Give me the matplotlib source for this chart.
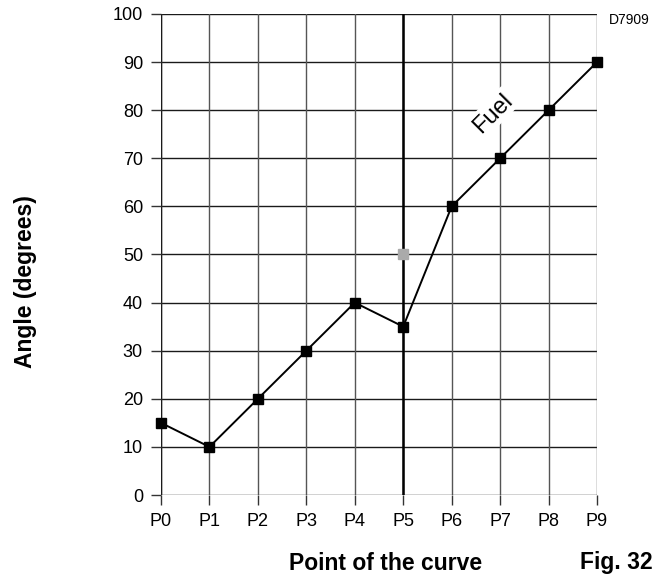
import matplotlib
matplotlib.use("Agg")
import matplotlib.pyplot as plt

plt.rcParams['font.family'] = ['Liberation Sans', 'DejaVu Sans']

points = ["P0", "P1", "P2", "P3", "P4", "P5", "P6", "P7", "P8", "P9"]
angles = [15, 10, 20, 30, 40, 35, 60, 70, 80, 90]
gray_point_x = 5
gray_point_y = 50
y_ticks = [0, 10, 20, 30, 40, 50, 60, 70, 80, 90, 100]

fig = plt.figure(figsize=(6.66, 5.79), dpi=100)
ax = fig.add_axes([161/666, 1-495/579, (597-161)/666, (495-14)/579])

x = list(range(len(points)))
ax.set_xlim(0, 9)
ax.set_ylim(0, 100)
for yv in y_ticks:
    ax.axhline(yv, color='#1a1a1a', lw=1.0, zorder=1)
for xv in x:
    ax.axvline(xv, color='#555555', lw=1.0, zorder=1)
ax.axvline(0, color='#1a1a1a', lw=1.0, zorder=1)
ax.axvline(5, color='black', lw=1.8, zorder=2)

ax.plot(x, angles, color='black', lw=1.4, marker='s', markersize=6.5, zorder=4, clip_on=False)
ax.plot([gray_point_x], [gray_point_y], marker='s', color='#aaaaaa', markersize=6.5, zorder=3, clip_on=False)

for s in ax.spines.values():
    s.set_visible(False)
ax.set_xticks(x)
ax.set_xticklabels(points)
ax.set_yticks(y_ticks)
ax.tick_params(axis='both', length=7, width=1, color='#333333', labelsize=13, pad=6)

ax.text(6.85, 79.4, "Fuel", rotation=45, fontsize=17, ha='center', va='center',
        rotation_mode='anchor',
        bbox=dict(facecolor='white', edgecolor='none', pad=1.5), zorder=3)

fig.text(26/666, 1-282/579, "Angle (degrees)", rotation=90, fontsize=16.5, fontweight='bold', ha='center', va='center')
fig.text(386/666, 1-563/579, "Point of the curve", fontsize=16.5, fontweight='bold', ha='center', va='center')
fig.text(616/666, 1-563/579, "Fig. 32", fontsize=16.5, fontweight='bold', ha='center', va='center')
fig.text(629/666, 1-20/579, "D7909", fontsize=10, ha='center', va='center')

fig.savefig("out.png", dpi=100)
